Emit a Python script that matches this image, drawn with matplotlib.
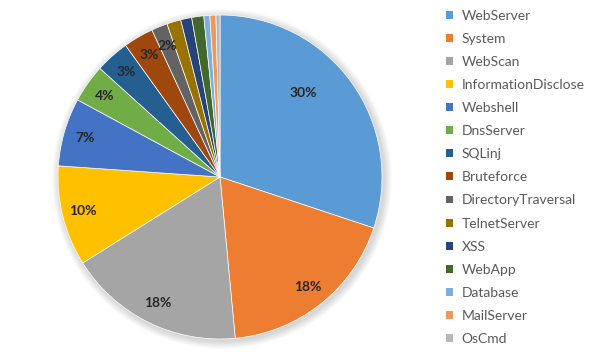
import matplotlib
matplotlib.use("Agg")
import matplotlib.pyplot as plt
import numpy as np
from matplotlib.patches import Circle, Patch

categories = ["WebServer", "System", "WebScan", "InformationDisclose", "Webshell",
              "DnsServer", "SQLinj", "Bruteforce", "DirectoryTraversal", "TelnetServer",
              "XSS", "WebApp", "Database", "MailServer", "OsCmd"]
values = [30.1, 18.4, 17.6, 10.0, 6.8, 3.8, 3.4, 3.0, 1.6, 1.4, 1.1, 1.2, 0.6, 0.6, 0.4]
colors = ["#5B9BD5", "#ED7D31", "#A5A5A5", "#FFC000", "#4472C4", "#70AD47", "#255E91",
          "#9E480E", "#636363", "#997300", "#264478", "#43682B", "#7CAFDD", "#F1975A", "#B7B7B7"]

plt.rcParams['font.family'] = ['Lato', 'DejaVu Sans']

fig = plt.figure(figsize=(5.97, 3.56), dpi=100)
fig.patch.set_facecolor("white")
W, H = 597, 356
cx, cy, r = 220, 177, 162
ax = fig.add_axes([(cx - r) / W, (H - cy - r) / H, 2 * r / W, 2 * r / H])

def fmt(p):
    return f"{p:.0f}%" if p >= 1.5 else ""

wedges, texts, autotexts = ax.pie(values, colors=colors, startangle=90, counterclock=False,
                                  radius=1.0, autopct=fmt, pctdistance=0.87,
                                  wedgeprops=dict(edgecolor="white", linewidth=0.5),
                                  textprops=dict(fontsize=10, fontweight="bold", color="#262626"))
ax.set_xlim(-1.0, 1.0)
ax.set_ylim(-1.0, 1.0)
ax.set_aspect("auto")
ax.axis("off")

# soft shadow
for i in range(8):
    ax.add_patch(Circle((0.012, -0.012), 1.0 + 0.006 * (i + 1), color="#000000",
                        alpha=0.018, lw=0, zorder=0, clip_on=False))
for w in wedges:
    w.set_zorder(2)
for t in autotexts:
    t.set_zorder(3)

# first label placed further in (best-fit style)
w0 = wedges[0]
ang = np.deg2rad(w0.theta2 - 0.41 * (w0.theta2 - w0.theta1))
autotexts[0].set_position((0.73 * np.cos(ang), 0.73 * np.sin(ang)))

handles = [Patch(facecolor=c, edgecolor="none") for c in colors]
leg = fig.legend(handles, categories, loc="upper left", bbox_to_anchor=(440 / W, 1 - 4 / H),
                 frameon=False, fontsize=10, labelspacing=0.80, handlelength=0.5,
                 handleheight=0.5, handletextpad=0.65, borderaxespad=0)
for t in leg.get_texts():
    t.set_color("#595959")

fig.savefig("out.png", dpi=100)
